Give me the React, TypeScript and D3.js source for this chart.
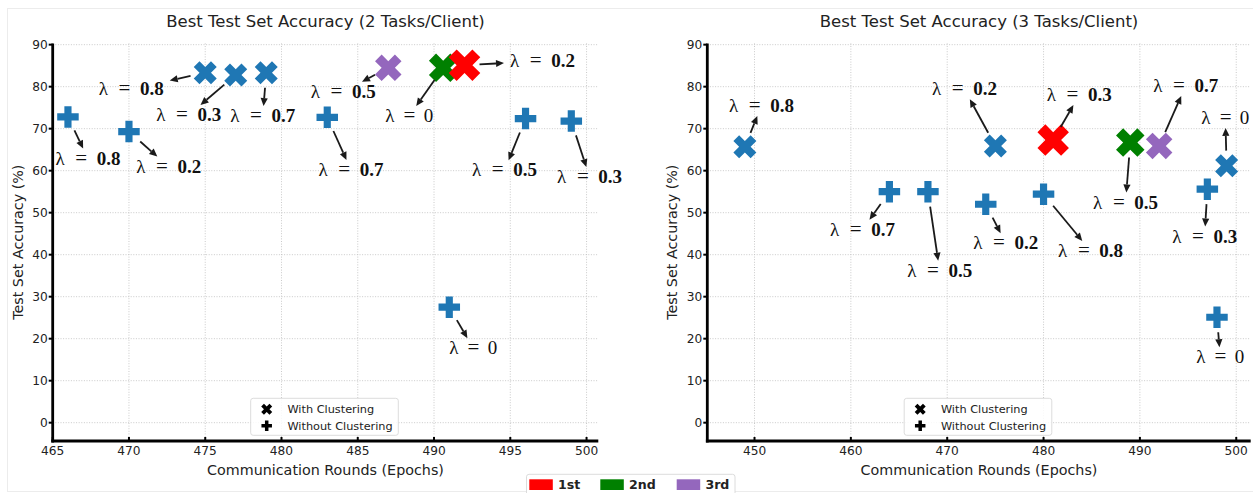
import React from 'react';
import * as d3 from 'd3';

// 2 tasks / client
const ROUNDS_2_CLUSTER = [475, 477, 479, 487, 490.6, 492];
const ACC_2_CLUSTER = [83.3, 82.8, 83.3, 84.5, 84.5, 85.1];
const LAMBDA_2_CLUSTER = ['0.8', '0.3', '0.7', '0.5', '0', '0.2'];
const RANK_2_CLUSTER = [0, 0, 0, 3, 2, 1];

const ROUNDS_2_PLAIN = [466, 470, 483, 491, 496, 499];
const ACC_2_PLAIN = [72.8, 69.3, 72.7, 27.5, 72.4, 71.8];
const LAMBDA_2_PLAIN = ['0.8', '0.2', '0.7', '0', '0.5', '0.3'];

// 3 tasks / client
const ROUNDS_3_CLUSTER = [449, 475, 481, 489, 492, 499];
const ACC_3_CLUSTER = [65.7, 65.9, 67.3, 66.7, 65.9, 61.2];
const LAMBDA_3_CLUSTER = ['0.8', '0.2', '0.3', '0.5', '0.7', '0'];
const RANK_3_CLUSTER = [0, 0, 1, 2, 3, 0];

const ROUNDS_3_PLAIN = [464, 468, 474, 480, 497, 498];
const ACC_3_PLAIN = [55.0, 55.0, 52.0, 54.4, 55.6, 25.1];
const LAMBDA_3_PLAIN = ['0.7', '0.5', '0.2', '0.8', '0.3', '0'];

const X_TICKS_2 = [465, 470, 475, 480, 485, 490, 495, 500];
const X_TICKS_3 = [450, 460, 470, 480, 490, 500];
const Y_TICKS = [0, 10, 20, 30, 40, 50, 60, 70, 80, 90];

const RANK_LABELS = ['1st', '2nd', '3rd'];

// styling / layout
const BLUE = '#1f77b4';
const RANK_COLORS = [BLUE, '#ff0000', '#008000', '#9467bd'];
const RANK_SIZES = [23, 31.5, 28.5, 26.5];
const PLUS_SIZE = 21.5;

// label offsets (px) from each point
const OFF_2_CLUSTER = [[-74, 16], [-47, 40], [-3.5, 43.3], [-45, 24], [-34, 48.3], [78, -4.3]];
const OFF_2_PLAIN = [[20, 41.7], [39.7, 35], [23.7, 52.7], [24, 41], [-21, 51.7], [18.3, 56]];
const OFF_3_CLUSTER = [[16.5, -40.7], [-31, -56.7], [26, -45], [-4.7, 60], [26.5, -60], [-1.3, -47.7]];
const OFF_3_PLAIN = [[-27, 38], [11.7, 79], [20, 39], [47, 56.7], [-2.7, 47.4], [3.3, 40]];

const X_PTS = [[-1, -2], [0, -1], [1, -2], [2, -1], [1, 0], [2, 1], [1, 2], [0, 1], [-1, 2], [-2, 1], [-1, 0], [-2, -1]];
const P_PTS = [[-1, -3], [1, -3], [1, -1], [3, -1], [3, 1], [1, 1], [1, 3], [-1, 3], [-1, 1], [-3, 1], [-3, -1], [-1, -1]];

const markerPath = (pts: number[][], k: number) =>
  'M' + pts.map(([a, b]) => `${(a * k).toFixed(2)},${(b * k).toFixed(2)}`).join('L') + 'Z';
const xMarker = (s: number) => markerPath(X_PTS, s / 4);
const plusMarker = (s: number) => markerPath(P_PTS, s / 6);

const SANS = 'DejaVu Sans, sans-serif';
const SERIF = 'Liberation Serif, DejaVu Serif, serif';

const PANELS = [
  {
    title: 'Best Test Set Accuracy (2 Tasks/Client)',
    left: 52.7, right: 598.3, xDomain: [465, 500.77], xTicks: X_TICKS_2, yLabelX: 18.3,
    cRounds: ROUNDS_2_CLUSTER, cAcc: ACC_2_CLUSTER, cLam: LAMBDA_2_CLUSTER, cRank: RANK_2_CLUSTER, cOff: OFF_2_CLUSTER,
    pRounds: ROUNDS_2_PLAIN, pAcc: ACC_2_PLAIN, pLam: LAMBDA_2_PLAIN, pOff: OFF_2_PLAIN,
  },
  {
    title: 'Best Test Set Accuracy (3 Tasks/Client)',
    left: 707.3, right: 1250.7, xDomain: [445.1, 501.5], xTicks: X_TICKS_3, yLabelX: 671.7,
    cRounds: ROUNDS_3_CLUSTER, cAcc: ACC_3_CLUSTER, cLam: LAMBDA_3_CLUSTER, cRank: RANK_3_CLUSTER, cOff: OFF_3_CLUSTER,
    pRounds: ROUNDS_3_PLAIN, pAcc: ACC_3_PLAIN, pLam: LAMBDA_3_PLAIN, pOff: OFF_3_PLAIN,
  },
];

const TOP = 43.4;
const BOTTOM = 441;

export default function App() {
  const ref = React.useRef<SVGSVGElement>(null);

  React.useEffect(() => {
    const svg = d3.select(ref.current);
    svg.selectAll('*').remove();

    svg.append('rect').attr('x', 7.5).attr('y', 8.5).attr('width', 1300).attr('height', 483)
      .attr('fill', 'none').attr('stroke', '#ececec').attr('stroke-width', 1);

    const y = d3.scaleLinear().domain([-4.36, 90.3]).range([BOTTOM, TOP]);

    PANELS.forEach(p => {
      const x = d3.scaleLinear().domain(p.xDomain).range([p.left, p.right]);
      const g = svg.append('g');
      const cx = (p.left + p.right) / 2;

      // grid
      g.selectAll('.vg').data(p.xTicks).enter().append('line')
        .attr('x1', d => x(d)).attr('x2', d => x(d)).attr('y1', TOP).attr('y2', BOTTOM)
        .attr('stroke', '#c4c4c4').attr('stroke-width', 0.9).attr('stroke-dasharray', '1,1.6');
      g.selectAll('.hg').data(Y_TICKS).enter().append('line')
        .attr('x1', p.left).attr('x2', p.right).attr('y1', d => y(d)).attr('y2', d => y(d))
        .attr('stroke', '#c4c4c4').attr('stroke-width', 0.9).attr('stroke-dasharray', '1,1.6');

      // spines
      g.append('line').attr('x1', p.left).attr('x2', p.left).attr('y1', TOP).attr('y2', BOTTOM + 1.4)
        .attr('stroke', '#000').attr('stroke-width', 2.8);
      g.append('line').attr('x1', p.left - 1.4).attr('x2', p.right).attr('y1', BOTTOM).attr('y2', BOTTOM)
        .attr('stroke', '#000').attr('stroke-width', 2.8);

      // ticks
      g.selectAll('.yt').data(Y_TICKS).enter().append('line')
        .attr('x1', p.left - 4).attr('x2', p.left).attr('y1', d => y(d)).attr('y2', d => y(d))
        .attr('stroke', '#000').attr('stroke-width', 2);
      g.selectAll('.xt').data(p.xTicks).enter().append('line')
        .attr('x1', d => x(d)).attr('x2', d => x(d)).attr('y1', BOTTOM - 4).attr('y2', BOTTOM)
        .attr('stroke', '#000').attr('stroke-width', 2);

      g.selectAll('.yl').data(Y_TICKS).enter().append('text')
        .attr('x', p.left - 5).attr('y', d => y(d)).attr('dy', '0.36em')
        .attr('text-anchor', 'end').attr('font-family', SANS).attr('font-size', 12.2).attr('fill', '#222')
        .text(d => d);
      g.selectAll('.xl').data(p.xTicks).enter().append('text')
        .attr('x', d => x(d)).attr('y', 450.5).attr('dy', '0.36em')
        .attr('text-anchor', 'middle').attr('font-family', SANS).attr('font-size', 12.2).attr('fill', '#222')
        .text(d => d);

      // titles
      g.append('text').attr('x', cx).attr('y', 20.7).attr('dy', '0.36em').attr('text-anchor', 'middle')
        .attr('font-family', SANS).attr('font-size', 16.5).attr('fill', '#222').text(p.title);
      g.append('text').attr('x', cx).attr('y', 470).attr('dy', '0.36em').attr('text-anchor', 'middle')
        .attr('font-family', SANS).attr('font-size', 14.3).attr('fill', '#222').text('Communication Rounds (Epochs)');
      g.append('text').attr('transform', `translate(${p.yLabelX},${(TOP + BOTTOM) / 2}) rotate(-90)`)
        .attr('dy', '0.36em').attr('text-anchor', 'middle')
        .attr('font-family', SANS).attr('font-size', 14.3).attr('fill', '#222').text('Test Set Accuracy (%)');

      // markers
      p.pRounds.forEach((r, i) => {
        g.append('path').attr('d', plusMarker(PLUS_SIZE))
          .attr('transform', `translate(${x(r)},${y(p.pAcc[i])})`).attr('fill', BLUE);
      });
      p.cRounds.forEach((r, i) => {
        const k = p.cRank[i];
        g.append('path').attr('d', xMarker(RANK_SIZES[k]))
          .attr('transform', `translate(${x(r)},${y(p.cAcc[i])})`).attr('fill', RANK_COLORS[k]);
      });

      // annotations
      const annotate = (px: number, py: number, off: number[], lam: string) => {
        const lx = px + off[0], ly = py + off[1];
        const dec = lam.includes('.');
        const w = dec ? 65 : 48;
        const numW = dec ? 23.5 : 9.5;
        const l0 = lx - w / 2;
        const base = { 'font-family': SERIF, fill: '#111' } as Record<string, string>;
        const part = (tx: number, anchor: string, size: number, weight: string, txt: string) => {
          const t = g.append('text').attr('x', tx).attr('y', ly + 6.2).attr('text-anchor', anchor)
            .attr('font-size', size).attr('font-weight', weight);
          Object.entries(base).forEach(([k, v]) => t.attr(k, v));
          t.text(txt);
        };
        part(l0, 'start', 19, 'normal', 'λ');
        part(l0 + 10 + (w - 10 - numW) / 2, 'middle', 21, 'normal', '=');
        part(l0 + w, 'end', 19, dec ? 'bold' : 'normal', lam);

        const dx = off[0], dy = off[1];
        const len = Math.hypot(dx, dy);
        const ux = dx / len, uy = dy / len;
        const hw = w / 2 + 6, hh = 10;
        const tEnter = Math.max(Math.abs(dx) > 0 ? 1 - hw / Math.abs(dx) : -1, Math.abs(dy) > 0 ? 1 - hh / Math.abs(dy) : -1);
        const hx = px + dx * tEnter, hy = py + dy * tEnter;
        const sx = px + ux * 15, sy = py + uy * 15;
        const headLen = 8, headW = 3.6;
        const bx = hx - ux * headLen, by = hy - uy * headLen;
        g.append('line').attr('x1', sx).attr('y1', sy).attr('x2', bx).attr('y2', by)
          .attr('stroke', '#1a1a1a').attr('stroke-width', 1.8);
        g.append('path')
          .attr('d', `M${hx},${hy}L${bx - uy * headW},${by + ux * headW}L${bx + uy * headW},${by - ux * headW}Z`)
          .attr('fill', '#1a1a1a');
      };
      p.cRounds.forEach((r, i) => annotate(x(r), y(p.cAcc[i]), p.cOff[i], p.cLam[i]));
      p.pRounds.forEach((r, i) => annotate(x(r), y(p.pAcc[i]), p.pOff[i], p.pLam[i]));

      // panel legend
      const lw = 147.6, lh = 37;
      const lx0 = cx - 1 - lw / 2, ly0 = 398.3;
      const lg = g.append('g');
      lg.append('rect').attr('x', lx0).attr('y', ly0).attr('width', lw).attr('height', lh).attr('rx', 2.5)
        .attr('fill', '#fff').attr('fill-opacity', 0.85).attr('stroke', '#d8d8d8').attr('stroke-width', 0.9);
      lg.append('path').attr('d', xMarker(11)).attr('transform', `translate(${lx0 + 16},${ly0 + 11})`).attr('fill', '#000');
      lg.append('path').attr('d', plusMarker(10.5)).attr('transform', `translate(${lx0 + 16},${ly0 + 27.4})`).attr('fill', '#000');
      [['With Clustering', 11], ['Without Clustering', 27.4]].forEach(([txt, off]) => {
        lg.append('text').attr('x', lx0 + 36.7).attr('y', ly0 + (off as number)).attr('dy', '0.36em')
          .attr('font-family', SANS).attr('font-size', 11.3).attr('fill', '#222').text(txt as string);
      });
    });

    // rank legend
    const fl = svg.append('g');
    fl.append('rect').attr('x', 526.5).attr('y', 474.3).attr('width', 208.5).attr('height', 30).attr('rx', 2.5)
      .attr('fill', '#fff').attr('stroke', '#d8d8d8').attr('stroke-width', 0.9);
    const starts = [529.3, 600.3, 676.7];
    RANK_LABELS.forEach((lab, i) => {
      fl.append('rect').attr('x', starts[i]).attr('y', 479.3).attr('width', 23.5).attr('height', 10.7)
        .attr('fill', RANK_COLORS[i + 1]);
      fl.append('text').attr('x', starts[i] + 28.7).attr('y', 484.6).attr('dy', '0.36em')
        .attr('font-family', SANS).attr('font-weight', 'bold').attr('font-size', 12.6).attr('fill', '#222').text(lab);
    });
  }, []);

  return (
    <div>
      <style>{'body{margin:0;}'}</style>
      <svg ref={ref} width={1253} height={493} style={{ display: 'block', background: '#fff' }} />
    </div>
  );
}
